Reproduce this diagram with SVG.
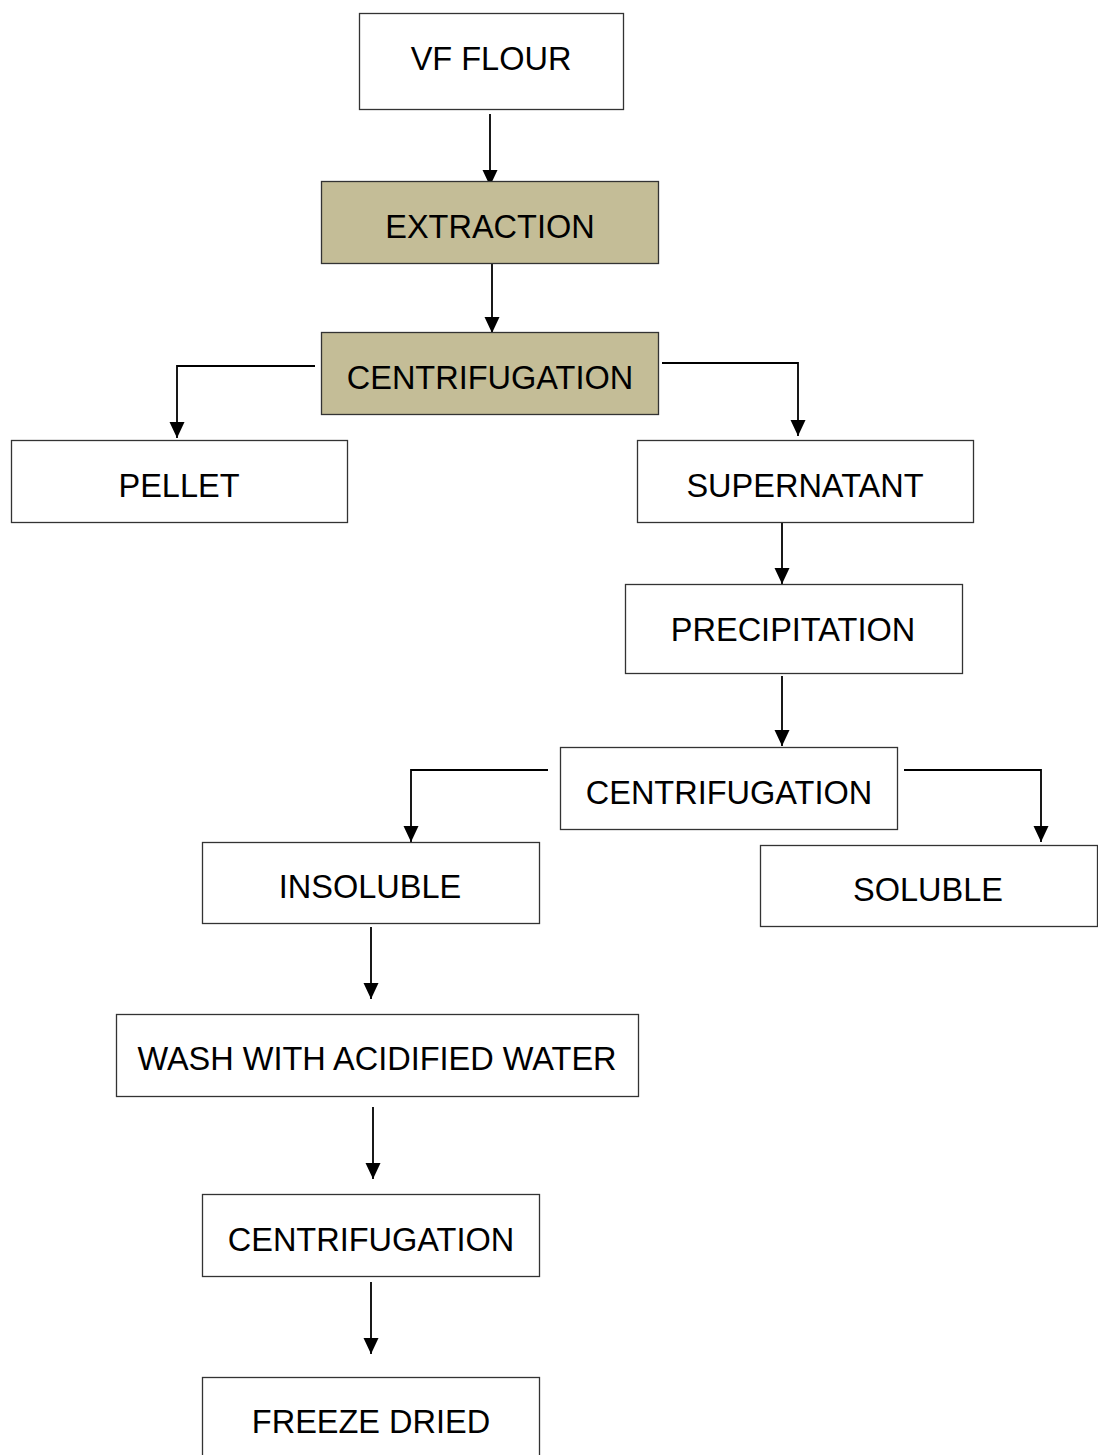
<svg xmlns="http://www.w3.org/2000/svg" width="1098" height="1455" viewBox="0 0 1098 1455">
<defs>
<marker id="ah" markerUnits="userSpaceOnUse" markerWidth="18" markerHeight="18" viewBox="0 0 18 18" refX="16" refY="9" orient="auto">
<path d="M0,1.5 L16,9 L0,16.5 Z" fill="#000"/>
</marker>
<style>
.box{fill:#fff;stroke:#333;stroke-width:1.3}
.tan{fill:#C4BD97}
.t{font-family:"Liberation Sans",Arial,sans-serif;font-size:32.5px;fill:#000;text-anchor:middle}
.c{fill:none;stroke:#000;stroke-width:1.8;marker-end:url(#ah)}
</style>
</defs>
<rect width="1098" height="1455" fill="#fff"/>
<g id="connectors">
<path class="c" d="M490,114 V186"/>
<path class="c" d="M492,263 V333"/>
<path class="c" d="M315,366 H177 V438"/>
<path class="c" d="M662,363 H798 V436"/>
<path class="c" d="M782,514 V584"/>
<path class="c" d="M782,676 V746"/>
<path class="c" d="M548,770 H411 V842"/>
<path class="c" d="M904,770 H1041 V842"/>
<path class="c" d="M371,927 V999"/>
<path class="c" d="M373,1107 V1179"/>
<path class="c" d="M371,1282 V1354"/>
</g>
<g id="vf-flour"><rect class="box" x="359.5" y="13.5" width="264" height="96"/><text class="t" x="491" y="70">VF FLOUR</text></g>
<g id="extraction"><rect class="box tan" x="321.5" y="181.5" width="337" height="82"/><text class="t" x="490" y="238">EXTRACTION</text></g>
<g id="centrifugation1"><rect class="box tan" x="321.5" y="332.5" width="337" height="82"/><text class="t" x="490" y="389">CENTRIFUGATION</text></g>
<g id="pellet"><rect class="box" x="11.5" y="440.5" width="336" height="82"/><text class="t" x="179" y="497">PELLET</text></g>
<g id="supernatant"><rect class="box" x="637.5" y="440.5" width="336" height="82"/><text class="t" x="805" y="497">SUPERNATANT</text></g>
<g id="precipitation"><rect class="box" x="625.5" y="584.5" width="337" height="89"/><text class="t" x="793" y="641">PRECIPITATION</text></g>
<g id="centrifugation2"><rect class="box" x="560.5" y="747.5" width="337" height="82"/><text class="t" x="729" y="804">CENTRIFUGATION</text></g>
<g id="insoluble"><rect class="box" x="202.5" y="842.5" width="337" height="81"/><text class="t" x="370" y="898">INSOLUBLE</text></g>
<g id="soluble"><rect class="box" x="760.5" y="845.5" width="337" height="81"/><text class="t" x="928" y="901">SOLUBLE</text></g>
<g id="wash"><rect class="box" x="116.5" y="1014.5" width="522" height="82"/><text class="t" x="377" y="1070">WASH WITH ACIDIFIED WATER</text></g>
<g id="centrifugation3"><rect class="box" x="202.5" y="1194.5" width="337" height="82"/><text class="t" x="371" y="1251">CENTRIFUGATION</text></g>
<g id="freeze-dried"><rect class="box" x="202.5" y="1377.5" width="337" height="90"/><text class="t" x="371" y="1433">FREEZE DRIED</text></g>
</svg>
